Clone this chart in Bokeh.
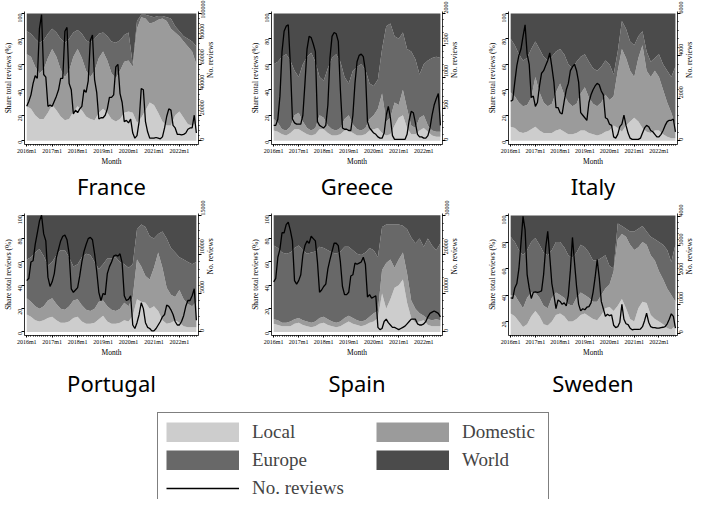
import math
from bokeh.plotting import figure
from bokeh.models import Range1d, LinearAxis, FixedTicker, Legend, LegendItem, NumeralTickFormatter
from bokeh.layouts import column, row
from bokeh.embed import file_html
from bokeh.resources import INLINE

# ---------------- data ----------------
months = list(range(81))            # 2016m1 ... 2022m9 (monthly review counts)
months_bi = list(range(0, 81, 2))   # bi-monthly points for the shares
year_ticks = [0, 12, 24, 36, 48, 60, 72]
year_labels = ["2016m1", "2017m1", "2018m1", "2019m1", "2020m1", "2021m1", "2022m1"]
share_ticks = [0, 20, 40, 60, 80, 100]
sweden_share_ticks = [20, 40, 60, 80, 100]

# cumulative shares (%): top of Local, top of Local+Domestic, top of Local+Domestic+Europe
fr_cum_local = [27, 25, 20, 17, 17, 22, 28, 24, 19, 16, 17, 23, 27, 24, 19, 17, 16, 22, 25, 22, 17,
                15, 17, 22, 23, 22, 14, 18, 24, 30, 28, 22, 15, 12, 12, 20, 23, 18, 13, 12, 14]
fr_cum_domestic = [68, 66, 58, 53, 56, 65, 72, 66, 56, 50, 55, 66, 72, 65, 55, 50, 55, 65, 70, 63, 53,
                   49, 55, 62, 63, 58, 88, 97, 96, 92, 93, 95, 96, 94, 88, 85, 82, 78, 74, 70, 60]
fr_cum_europe = [86, 84, 80, 77, 79, 84, 88, 85, 80, 77, 80, 85, 87, 84, 79, 77, 80, 84, 85, 82, 78,
                 77, 79, 83, 85, 60, 94, 99, 99, 98, 97, 98, 98, 97, 96, 90, 86, 82, 80, 78, 74]
fr_reviews = [27000, 31000, 36000, 45000, 51000, 49000, 88000, 99000, 52000, 50000, 27000, 28000,
              27000, 31000, 35000, 40000, 49000, 49000, 86000, 89000, 45000, 40000, 21000, 24000,
              22000, 25000, 27000, 40000, 38000, 47000, 79000, 83000, 48000, 38000, 17000, 18000,
              18000, 20000, 25000, 34000, 34000, 36000, 58000, 60000, 37000, 30000, 15000, 16000,
              14000, 17000, 6000, 2000, 4000, 15000, 41000, 40000, 15000, 7000, 2000, 2000,
              2000, 2500, 2000, 1500, 3000, 10000, 19000, 25000, 24000, 12000, 10000, 5000,
              5000, 4500, 5000, 6000, 9000, 10000, 10000, 20000, 6000]

gr_cum_local = [8, 7, 5, 4, 6, 9, 9, 7, 5, 4, 5, 9, 9, 6, 4, 4, 5, 8, 8, 6, 4,
                4, 5, 8, 9, 10, 6, 4, 5, 12, 18, 20, 10, 5, 5, 8, 10, 7, 4, 3, 3]
gr_cum_domestic = [17, 14, 9, 8, 11, 20, 22, 15, 10, 8, 10, 20, 18, 12, 9, 8, 10, 17, 20, 13, 9,
                   8, 10, 17, 20, 25, 37, 15, 18, 30, 28, 40, 25, 12, 10, 18, 20, 12, 8, 7, 7]
gr_cum_europe = [60, 62, 66, 68, 63, 55, 50, 60, 66, 69, 62, 50, 47, 57, 65, 68, 62, 50, 45, 55, 58,
                 60, 56, 45, 43, 48, 72, 90, 92, 82, 80, 85, 72, 70, 64, 52, 60, 63, 65, 66, 65]
gr_reviews = [240, 240, 340, 700, 1400, 1720, 1800, 1820, 1200, 340, 280, 260,
              260, 260, 400, 900, 1440, 1640, 1620, 1520, 1400, 300, 240, 220,
              200, 240, 560, 1300, 1640, 1700, 1680, 1560, 800, 200, 180, 180,
              160, 160, 400, 900, 1240, 1340, 1360, 1320, 1100, 300, 200, 160,
              120, 100, 60, 40, 40, 120, 400, 540, 360, 80, 20, 20,
              20, 20, 20, 20, 100, 320, 460, 440, 280, 100, 60, 60,
              40, 40, 80, 200, 400, 560, 660, 740, 240]

it_cum_local = [11, 10, 7, 6, 7, 9, 11, 8, 6, 6, 6, 8, 9, 7, 5, 5, 6, 8, 8, 6, 5,
                4, 5, 7, 8, 12, 10, 7, 12, 15, 18, 15, 10, 7, 6, 8, 8, 5, 3, 2, 2]
it_cum_domestic = [38, 35, 30, 27, 28, 34, 50, 38, 30, 27, 29, 38, 45, 36, 30, 27, 29, 37, 42, 34, 29,
                   27, 30, 36, 32, 35, 55, 72, 65, 55, 50, 65, 75, 55, 50, 55, 50, 40, 30, 22, 12]
it_cum_europe = [80, 75, 68, 63, 65, 72, 78, 72, 66, 63, 66, 70, 72, 68, 60, 57, 62, 66, 68, 62, 57,
                 55, 58, 63, 60, 52, 70, 94, 88, 78, 75, 82, 86, 70, 62, 65, 68, 60, 55, 50, 58]
it_reviews = [1860, 1920, 2760, 3540, 4020, 4320, 4920, 5460, 4080, 3600, 2040, 2100,
              1620, 1800, 2580, 3180, 3300, 3540, 3780, 4140, 3480, 2760, 1560, 1560,
              1320, 1260, 1860, 2400, 2700, 3300, 3480, 3600, 3300, 2760, 1320, 1200,
              1080, 960, 1800, 2160, 2400, 2580, 2700, 2640, 2340, 2160, 1080, 1020,
              780, 720, 180, 120, 300, 660, 780, 1200, 720, 360, 120, 60,
              60, 60, 60, 120, 360, 600, 720, 660, 480, 420, 300, 180,
              180, 300, 480, 720, 900, 960, 960, 1020, 420]

pt_cum_local = [15, 13, 10, 9, 10, 12, 13, 10, 8, 8, 9, 12, 13, 9, 7, 7, 8, 11, 14, 9, 7,
                7, 8, 10, 9, 14, 28, 26, 25, 20, 22, 18, 10, 7, 8, 10, 8, 5, 4, 4, 4]
pt_cum_domestic = [29, 26, 22, 20, 22, 27, 29, 24, 20, 19, 22, 27, 28, 23, 19, 18, 20, 26, 27, 22, 19,
                   18, 20, 25, 22, 30, 62, 56, 48, 45, 55, 68, 55, 38, 32, 30, 36, 28, 24, 22, 26]
pt_cum_europe = [62, 64, 68, 71, 65, 57, 60, 66, 70, 70, 64, 56, 58, 64, 67, 66, 60, 54, 58, 63, 63,
                 64, 60, 58, 55, 58, 88, 92, 90, 82, 80, 84, 86, 80, 72, 68, 64, 62, 60, 58, 60]
pt_reviews = [6600, 6900, 9000, 9150, 11250, 12750, 14250, 15000, 12600, 11700, 7050, 5850,
              6450, 7500, 9600, 10650, 11700, 12300, 12450, 11850, 10050, 5550, 5100, 5400,
              5700, 7200, 9000, 10350, 11250, 12000, 12150, 11850, 10050, 7800, 5100, 4050,
              4950, 4800, 7500, 8400, 9000, 9750, 9900, 9750, 10050, 8850, 4650, 4050,
              4200, 4650, 900, 450, 1200, 2250, 3750, 3000, 1200, 600, 450, 150,
              150, 450, 900, 1350, 1950, 2250, 3450, 3300, 2850, 2250, 1350, 900,
              900, 1350, 2100, 3300, 4050, 4050, 4650, 5550, 1500]

es_cum_local = [7, 6, 5, 5, 5, 7, 8, 6, 5, 4, 5, 7, 8, 6, 5, 4, 5, 7, 9, 7, 6,
                5, 6, 8, 9, 12, 33, 20, 28, 38, 40, 45, 25, 12, 8, 9, 10, 6, 5, 5, 5]
es_cum_domestic = [11, 10, 8, 8, 9, 11, 12, 10, 9, 8, 9, 12, 13, 11, 9, 8, 9, 12, 14, 12, 10,
                   9, 10, 13, 16, 18, 53, 59, 62, 55, 62, 68, 50, 27, 20, 16, 14, 11, 10, 11, 10]
es_cum_europe = [74, 72, 68, 67, 68, 72, 74, 70, 67, 68, 69, 73, 72, 70, 68, 67, 69, 73, 73, 70, 67,
                 66, 68, 72, 70, 64, 90, 92, 92, 92, 92, 91, 88, 81, 76, 80, 73, 80, 74, 70, 76]
es_reviews = [12900, 13800, 19200, 21300, 25500, 25500, 27600, 28200, 26100, 23400, 13200, 12300,
              13200, 14700, 19800, 22200, 23400, 22800, 24600, 24000, 23400, 18000, 10200, 10800,
              11700, 12300, 16200, 18600, 20700, 22800, 22800, 22200, 18000, 11700, 9600, 9600,
              10200, 14400, 14700, 17700, 17400, 17700, 18000, 19200, 17400, 9000, 9600, 8700,
              9000, 9300, 1200, 600, 900, 2700, 3300, 2400, 1800, 1200, 1200, 900,
              600, 900, 1200, 1500, 2100, 2700, 3300, 3300, 3300, 2100, 1800, 1800,
              2100, 2700, 3900, 4800, 5100, 5400, 5100, 4800, 3900]

se_cum_local = [26, 24, 20, 16, 18, 24, 28, 24, 18, 17, 20, 25, 26, 24, 20, 20, 22, 25, 26, 24, 22,
                21, 25, 30, 31, 28, 32, 37, 30, 22, 20, 30, 35, 34, 25, 22, 20, 18, 15, 14, 17]
se_cum_domestic = [40, 40, 35, 30, 38, 42, 42, 38, 32, 30, 38, 42, 40, 38, 33, 32, 38, 42, 40, 38, 35,
                   35, 40, 45, 48, 58, 82, 86, 84, 78, 74, 76, 80, 78, 70, 66, 58, 52, 45, 40, 35]
se_cum_europe = [84, 80, 74, 70, 74, 80, 83, 78, 72, 70, 74, 80, 80, 76, 70, 68, 72, 78, 76, 72, 66,
                 66, 68, 70, 62, 60, 94, 92, 90, 88, 88, 90, 92, 88, 84, 82, 80, 78, 74, 65, 78]
se_reviews = [1215, 1190, 1550, 1700, 2210, 3080, 4000, 3540, 2010, 1550, 1190, 1400,
              1420, 1400, 1420, 1450, 2010, 2930, 3490, 2620, 1700, 1300, 840, 1140,
              1090, 990, 1040, 940, 1300, 2160, 3280, 2420, 1600, 990, 765, 840,
              805, 890, 910, 1040, 1400, 1910, 2520, 1910, 1090, 840, 580, 650,
              600, 630, 275, 195, 225, 380, 990, 480, 325, 295, 175, 120,
              130, 130, 130, 145, 225, 430, 685, 380, 225, 195, 195, 175,
              175, 195, 205, 225, 325, 480, 665, 580, 175]

fr_rev_ticks = [0, 20000, 40000, 60000, 80000, 100000]
gr_rev_ticks = [0, 500, 1000, 1500, 2000]
it_rev_ticks = [0, 2000, 4000, 6000]
pt_rev_ticks = [0, 5000, 10000, 15000]
es_rev_ticks = [0, 10000, 20000, 30000]
se_rev_ticks = [0, 1000, 2000, 3000, 4000]

# ---------------- style ----------------
SERIF = "Liberation Serif"
SANS = "Noto Sans"
C_LOCAL, C_DOM, C_EUR, C_WORLD = "#cdcdcd", "#9b9b9b", "#686868", "#4b4b4b"


def make_panel(name, cum_local, cum_dom, cum_eur, reviews, rev_ticks,
               y_lo, y_hi, rev_lo, rev_hi, left_ticks, width, bl, br, bt, bb, height, tstand):
    p = figure(width=width, height=height, x_range=Range1d(-1.05, 81.0), y_range=Range1d(y_lo, y_hi),
               output_backend="svg", toolbar_location=None, title=name, title_location="below",
               min_border_left=bl, min_border_right=br, min_border_top=bt, min_border_bottom=bb)
    p.extra_y_ranges = {"rev": Range1d(rev_lo, rev_hi)}
    base = [0] * len(months_bi)
    total = [100] * len(months_bi)
    p.varea(x=months_bi, y1=base, y2=cum_local, fill_color=C_LOCAL)
    p.varea(x=months_bi, y1=cum_local, y2=cum_dom, fill_color=C_DOM)
    p.varea(x=months_bi, y1=cum_dom, y2=cum_eur, fill_color=C_EUR)
    p.varea(x=months_bi, y1=cum_eur, y2=total, fill_color=C_WORLD)
    p.line(months, reviews, y_range_name="rev", line_color="black", line_width=1.3)

    p.outline_line_color = None
    p.grid.visible = False

    p.xaxis.ticker = FixedTicker(ticks=year_ticks, minor_ticks=months)
    p.xaxis.major_label_overrides = dict(zip(year_ticks, year_labels))
    p.xaxis.axis_label = "Month"
    p.yaxis.ticker = FixedTicker(ticks=left_ticks)
    p.yaxis.axis_label = "Share total reviews (%)"
    p.yaxis.major_label_orientation = math.pi / 2

    step = (rev_ticks[1] - rev_ticks[0]) / 5
    minor = [rev_ticks[0] + step * k for k in range(int(round((rev_ticks[-1] - rev_ticks[0]) / step)) + 1)]
    ra = LinearAxis(y_range_name="rev", ticker=FixedTicker(ticks=rev_ticks, minor_ticks=minor),
                    axis_label="No. reviews", formatter=NumeralTickFormatter(format="0"))
    ra.major_label_orientation = math.pi / 2
    ra.axis_label_orientation = math.pi / 2
    p.add_layout(ra, "right")

    for ax in p.axis:
        ax.axis_line_color = "black"
        ax.axis_line_width = 0.8
        ax.major_tick_line_color = "black"
        ax.minor_tick_line_color = "black"
        ax.major_tick_in = 0
        ax.major_tick_out = 3
        ax.minor_tick_in = 0
        ax.minor_tick_out = 1
        ax.major_label_text_font = SERIF
        ax.major_label_text_font_size = "6px"
        ax.major_label_text_color = "black"
        ax.axis_label_text_font = SERIF
        ax.axis_label_text_font_size = "7.5px"
        ax.axis_label_text_font_style = "normal"
        ax.axis_label_text_color = "black"
        ax.major_label_standoff = 1
        ax.axis_label_standoff = 1
    p.xaxis.axis_label_standoff = 0
    p.xaxis.major_tick_out = 2

    p.title.text_font = SANS
    p.title.text_font_size = "22px"
    p.title.text_font_style = "normal"
    p.title.text_color = "black"
    p.title.text_line_height = 1.0
    p.title.align = "center"
    p.title.standoff = tstand
    return p


Y_LO, Y_HI = -3, 101.5
def rr(mx):
    return Y_LO * mx / 100, Y_HI * mx / 100

W = [236, 230, 235]
BL = [23, 35, 42]
BR = [38, 20, 20]

p1 = make_panel("France", fr_cum_local, fr_cum_domestic, fr_cum_europe, fr_reviews, fr_rev_ticks,
                Y_LO, Y_HI, *rr(100000), share_ticks, W[0], BL[0], BR[0], 11, 52, 200, 0)
p2 = make_panel("Greece", gr_cum_local, gr_cum_domestic, gr_cum_europe, gr_reviews, gr_rev_ticks,
                Y_LO, Y_HI, *rr(2000), share_ticks, W[1], BL[1], BR[1], 11, 52, 200, 0)
p3 = make_panel("Italy", it_cum_local, it_cum_domestic, it_cum_europe, it_reviews, it_rev_ticks,
                Y_LO, Y_HI, *rr(6000), share_ticks, W[2], BL[2], BR[2], 11, 52, 200, 0)
p4 = make_panel("Portugal", pt_cum_local, pt_cum_domestic, pt_cum_europe, pt_reviews, pt_rev_ticks,
                Y_LO, Y_HI, *rr(15000), share_ticks, W[0], BL[0], BR[0], 13, 58, 204, 13)
p5 = make_panel("Spain", es_cum_local, es_cum_domestic, es_cum_europe, es_reviews, es_rev_ticks,
                Y_LO, Y_HI, *rr(30000), share_ticks, W[1], BL[1], BR[1], 13, 58, 204, 13)
p6 = make_panel("Sweden", se_cum_local, se_cum_domestic, se_cum_europe, se_reviews, se_rev_ticks,
                9.5, 101.5, -77, 4099, sweden_share_ticks, W[2], BL[2], BR[2], 13, 58, 204, 13)

# ---------------- legend ----------------
LG_H = 95
LG_TOP = 8
lg = figure(width=701, height=LG_H, output_backend="svg", toolbar_location=None,
            x_range=Range1d(0, 1), y_range=Range1d(0, 1),
            min_border_left=157, min_border_right=10, min_border_top=LG_TOP, min_border_bottom=0,
            x_axis_location=None, y_axis_location=None)
lg.grid.visible = False
lg.outline_line_color = None
# legend keys: drawn outside the visible range, only their legend swatches show
key_x = [2, 3]
key_y = [2, 2]
r_local = lg.line(key_x, key_y, line_color=C_LOCAL, line_width=20)
r_dom = lg.line(key_x, key_y, line_color=C_DOM, line_width=20)
r_eur = lg.line(key_x, key_y, line_color=C_EUR, line_width=20)
r_world = lg.line(key_x, key_y, line_color=C_WORLD, line_width=20)
r_line = lg.line(key_x, key_y, line_color="black", line_width=1.6)

common = dict(label_text_font=SERIF, label_text_font_size="19px", glyph_width=73, glyph_height=20,
              label_standoff=13, spacing=6, padding=8, margin=0, label_height=20)
legA = Legend(items=[LegendItem(label="Local", renderers=[r_local]),
                     LegendItem(label="Europe", renderers=[r_eur]),
                     LegendItem(label="No. reviews", renderers=[r_line])],
              location="top_left", border_line_color="black", border_line_width=1,
              label_width=288, **common)
legB = Legend(items=[LegendItem(label="Domestic", renderers=[r_dom]),
                     LegendItem(label="World", renderers=[r_world])],
              location=(219, LG_H - LG_TOP - 59), border_line_color=None, background_fill_alpha=0,
              label_width=60, **common)
lg.add_layout(legA)
lg.add_layout(legB)

layout = column(row(p1, p2, p3), row(p4, p5, p6), lg)
open("out.html", "w").write(file_html(layout, INLINE))
